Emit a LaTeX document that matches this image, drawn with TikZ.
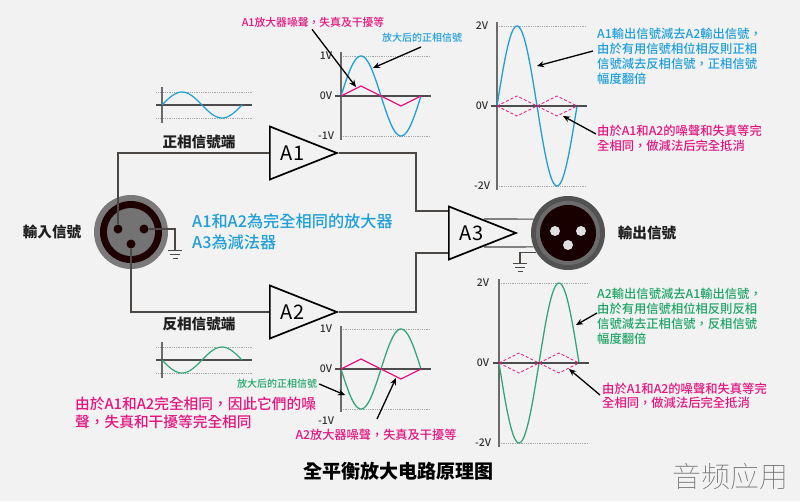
\documentclass[tikz,border=0pt]{standalone}
\usepackage{fontspec}
\setmainfont{Noto Sans CJK TC}
\newfontfamily\markfont[UprightFont=* Thin]{Noto Sans CJK SC}
\newfontfamily\notefont[UprightFont=* Medium]{Noto Sans CJK TC}
\usepackage{xcolor}
\usepackage{tikz}
\usetikzlibrary{arrows.meta,shapes.geometric}
\definecolor{bgcol}{HTML}{F2F2F2}
\definecolor{bluecol}{HTML}{1F9FD8}
\definecolor{greencol}{HTML}{1EA566}
\definecolor{pinkcol}{HTML}{E4157F}
\definecolor{wavegreen}{HTML}{35A578}
\definecolor{wireco}{HTML}{4A4745}
\newcommand{\fs}[1]{\fontsize{#1}{#1}\selectfont}
\newcommand{\wcm}{^^^^ff0c}
\newcommand{\ampname}[1]{\raisebox{-7.5pt}[0pt][0pt]{\makebox[0pt][l]{\hspace*{-7pt}#1}}}

\begin{document}
\begin{tikzpicture}[
  x=1pt, y=-1pt,
  every node/.style={inner sep=0pt, text=black},
  wire/.style={draw=wireco, line width=1.1pt},
  amp/.style={draw=black, line width=1.7pt, isosceles triangle,
    isosceles triangle stretches, minimum width=53pt, minimum height=67pt, anchor=lower side, font=\fs{20}},
  pointer/.style={-{Stealth[length=7pt,width=6pt]}, line width=1.3pt, black},
  axisline/.style={draw=black!58, line width=1.4pt},
  dotline/.style={draw=black!35, line width=.8pt, densely dotted},
  axislabel/.style={font=\notefont\fs{10.5}, text=black!80},
  heading/.style={font=\bfseries\fs{14.6}, text=black!88},
  note/.style={font=\notefont\fs{12.3}, align=left},
  gndsym/.pic={
    \draw[wire, line width=.9pt] (-7,0) -- (7,0) (-5,4) -- (5,4) (-2.5,8) -- (2.5,8);
  }
]
\useasboundingbox (0,0) rectangle (800,501);
\fill[bgcol] (0,0) rectangle (800,501);

\foreach \ox/\oy/\tall/\amp/\sgn/\cl in {
  341/96/44/40/1/bluecol, 341/369/43/40/-1/wavegreen,
  497/106/84/80/1/bluecol, 499/363/84/80/-1/wavegreen} {
  \draw[dotline] (\ox,\oy-\amp) -- (\ox+90,\oy-\amp);
  \draw[dotline] (\ox,\oy+\amp) -- (\ox+90,\oy+\amp);
  \draw[axisline] (\ox,\oy-\tall) -- (\ox,\oy+\tall);
  \draw[\cl, line width=1.3pt] plot[domain=0:360, samples=70] ({\ox+\x/4.5},{\oy-\sgn*\amp*sin(\x)});
  \draw[axisline, black!70] (\ox-6,\oy) -- (\ox+90,\oy);
}

\foreach \oy/\sgn/\cl in {105/1/bluecol, 360/-1/wavegreen} {
  \draw[dotline] (156,\oy-13) -- (252,\oy-13);
  \draw[dotline] (156,\oy+13) -- (252,\oy+13);
  \draw[axisline] (162,\oy-18) -- (162,\oy+18);
  \draw[axisline, black!70] (156,\oy) -- (252,\oy);
  \draw[\cl, line width=1.2pt] plot[domain=0:360, samples=50] ({162+\x/4.5},{\oy-\sgn*13*sin(\x)});
}

\foreach \oy in {96,369}
  \draw[pinkcol, line width=1.3pt] (341,\oy) -- (361,\oy-10) -- (401,\oy+10) -- (421,\oy);
\foreach \ox/\oy in {497/106,499/363} {
  \draw[pinkcol, line width=.8pt, densely dashed] (\ox,\oy) -- (\ox+20,\oy-10) -- (\ox+40,\oy) -- (\ox+60,\oy-10) -- (\ox+80,\oy);
  \draw[pinkcol, line width=.8pt, densely dashed] (\ox,\oy) -- (\ox+20,\oy+10) -- (\ox+40,\oy) -- (\ox+60,\oy+10) -- (\ox+80,\oy);
}

\foreach \nm/\ox/\oy/\tx in {
  la/326/56/1V, lb/326/96/0V, lc/326/136/-1V,
  ld/326/329/1V, le/326/369/0V, lf/326/421/-1V,
  lg/482/26/2V, lh/482/106/0V, li/482/186/-2V,
  lj/483/283/2V, lk/483/363/0V, ll/483/443/-2V}
  \node[axislabel] (\nm) at (\ox,\oy) {\tx};

\node[amp] (A1) at (269,153) {\ampname{A1}};
\node[amp] (A2) at (269,312) {\ampname{A2}};
\node[amp] (A3) at (448,233) {\ampname{A3}};

\node[circle, fill=black!52, minimum size=74pt] (xlrin) at (131,232) {};
\node[circle, fill=black!88!red, minimum size=62pt] (xlrinring) at (131,232) {};
\node[circle, fill=black!55, minimum size=48pt] (xlrincore) at (131,232) {};
\foreach \nm/\ox/\oy in {pina/118/229, pinb/144/229, pinc/131/244}
  \node[circle, fill=black!88!red, minimum size=9pt] (\nm) at (\ox,\oy) {};

\coordinate (gndin) at (175,250);
\coordinate (gndout) at (520,263);
\coordinate (busa) at (416,211);
\coordinate (busb) at (416,253);
\coordinate (outa) at (484,219);
\coordinate (outb) at (484,247);

\node[circle, fill=black!68, minimum size=74pt] (xlrout) at (568,233) {};
\node[circle, fill=black!58, minimum size=64pt] (xlroutring) at (568,233) {};
\node[circle, fill=black!90!red, minimum size=56pt] (xlroutcore) at (568,233) {};
\foreach \nm/\ox/\oy in {pind/555/231, pine/581/231, pinf/568/245}
  \node[circle, fill=black!12, minimum size=10pt] (\nm) at (\ox,\oy) {};

\draw[wire] (pina.north) |- (A1.lower side);
\draw[wire] (pinc.south) |- (A2.lower side);
\draw[wire] (A1.apex) -| (busa) -- (busa -| A3.lower side);
\draw[wire] (A2.apex) -| (busb) -- (busb -| A3.lower side);
\draw[wire] (pinb.east) -| (gndin);
\pic at (gndin) {gndsym};
\draw[wire] (outa) -- (xlrout.158);
\draw[wire] (outb) -- (xlrout.202);
\draw[wire] (xlrout.212) -| (gndout);
\pic at (gndout) {gndsym};

\node[heading] (inname) at (199,142) {正相信號端};
\node[heading] (invname) at (199,324) {反相信號端};
\node[heading] (intitle) at (52,232) {輸入信號};
\node[heading] (outtitle) at (647,233) {輸出信號};

\node[font=\notefont\fs{16.2}, text=bluecol, align=left, anchor=north west] (mainnote) at (192,213) {A1和A2為完全相同的放大器\\[5pt]A3為減法器};

\node[font=\notefont\fs{10.8}, text=pinkcol] (noisea) at (313,22) {A1放大器噪聲\wcm 失真及干擾等};
\node[font=\notefont\fs{10}, text=bluecol] (sigpos) at (422,38) {放大后的正相信號};
\node[font=\notefont\fs{10}, text=greencol] (signeg) at (277,384) {放大后的正相信號};
\node[font=\notefont\fs{12.2}, text=pinkcol] (noiseb) at (376,435) {A2放大器噪聲\wcm 失真及干擾等};
\node[font=\notefont\fs{14.7}, text=pinkcol, align=left, anchor=north west] (samenote) at (75,397) {由於A1和A2完全相同\wcm 因此它們的噪\\[3pt]聲\wcm 失真和干擾等完全相同};

\node[note, text=bluecol, anchor=north west] (subpos) at (597,28) {A1輸出信號減去A2輸出信號\wcm\\[2.5pt]由於有用信號相位相反則正相\\[2.5pt]信號減去反相信號\wcm 正相信號\\[2.5pt]幅度翻倍};
\node[note, text=pinkcol, anchor=north west] (cancelpos) at (597,125) {由於A1和A2的噪聲和失真等完\\[2pt]全相同\wcm 做減法后完全抵消};
\node[note, text=greencol, anchor=north west] (subneg) at (597,288) {A2輸出信號減去A1輸出信號\wcm\\[2.5pt]由於有用信號相位相反則反相\\[2.5pt]信號減去正相信號\wcm 反相信號\\[2.5pt]幅度翻倍};
\node[note, text=pinkcol, anchor=north west] (cancelneg) at (602,382.5) {由於A1和A2的噪聲和失真等完\\[2pt]全相同\wcm 做減法后完全抵消};

\node[font=\bfseries\fs{19}] (title) at (398,471) {全平衡放大电路原理图};
\node[font=\markfont\fs{29}, text=black!55] (mark) at (730,476) {音频应用};

\coordinate (noiseatip) at (356,87);
\coordinate (sigpostip) at (373,68);
\coordinate (signegtip) at (345,395);
\coordinate (noisebtip) at (396,378);
\coordinate (subpostip) at (537,66);
\coordinate (cancelpostip) at (563,116);
\coordinate (subnegtip) at (576,325);
\coordinate (cancelnegtip) at (569,369);

\draw[pointer] (noisea.south -| noiseatip) ++(-44,2) -- (noiseatip);
\draw[pointer] (421,47) -- (sigpostip);
\draw[pointer] (signeg.east) ++(2,0) -- (signegtip);
\draw[pointer] (377,419) -- (noisebtip);
\draw[pointer] (593,51) -- (subpostip);
\draw[pointer] (596,134) -- (cancelpostip);
\draw[pointer] (597,313) -- (subnegtip);
\draw[pointer] (600,395) -- (cancelnegtip);
\end{tikzpicture}
\end{document}
